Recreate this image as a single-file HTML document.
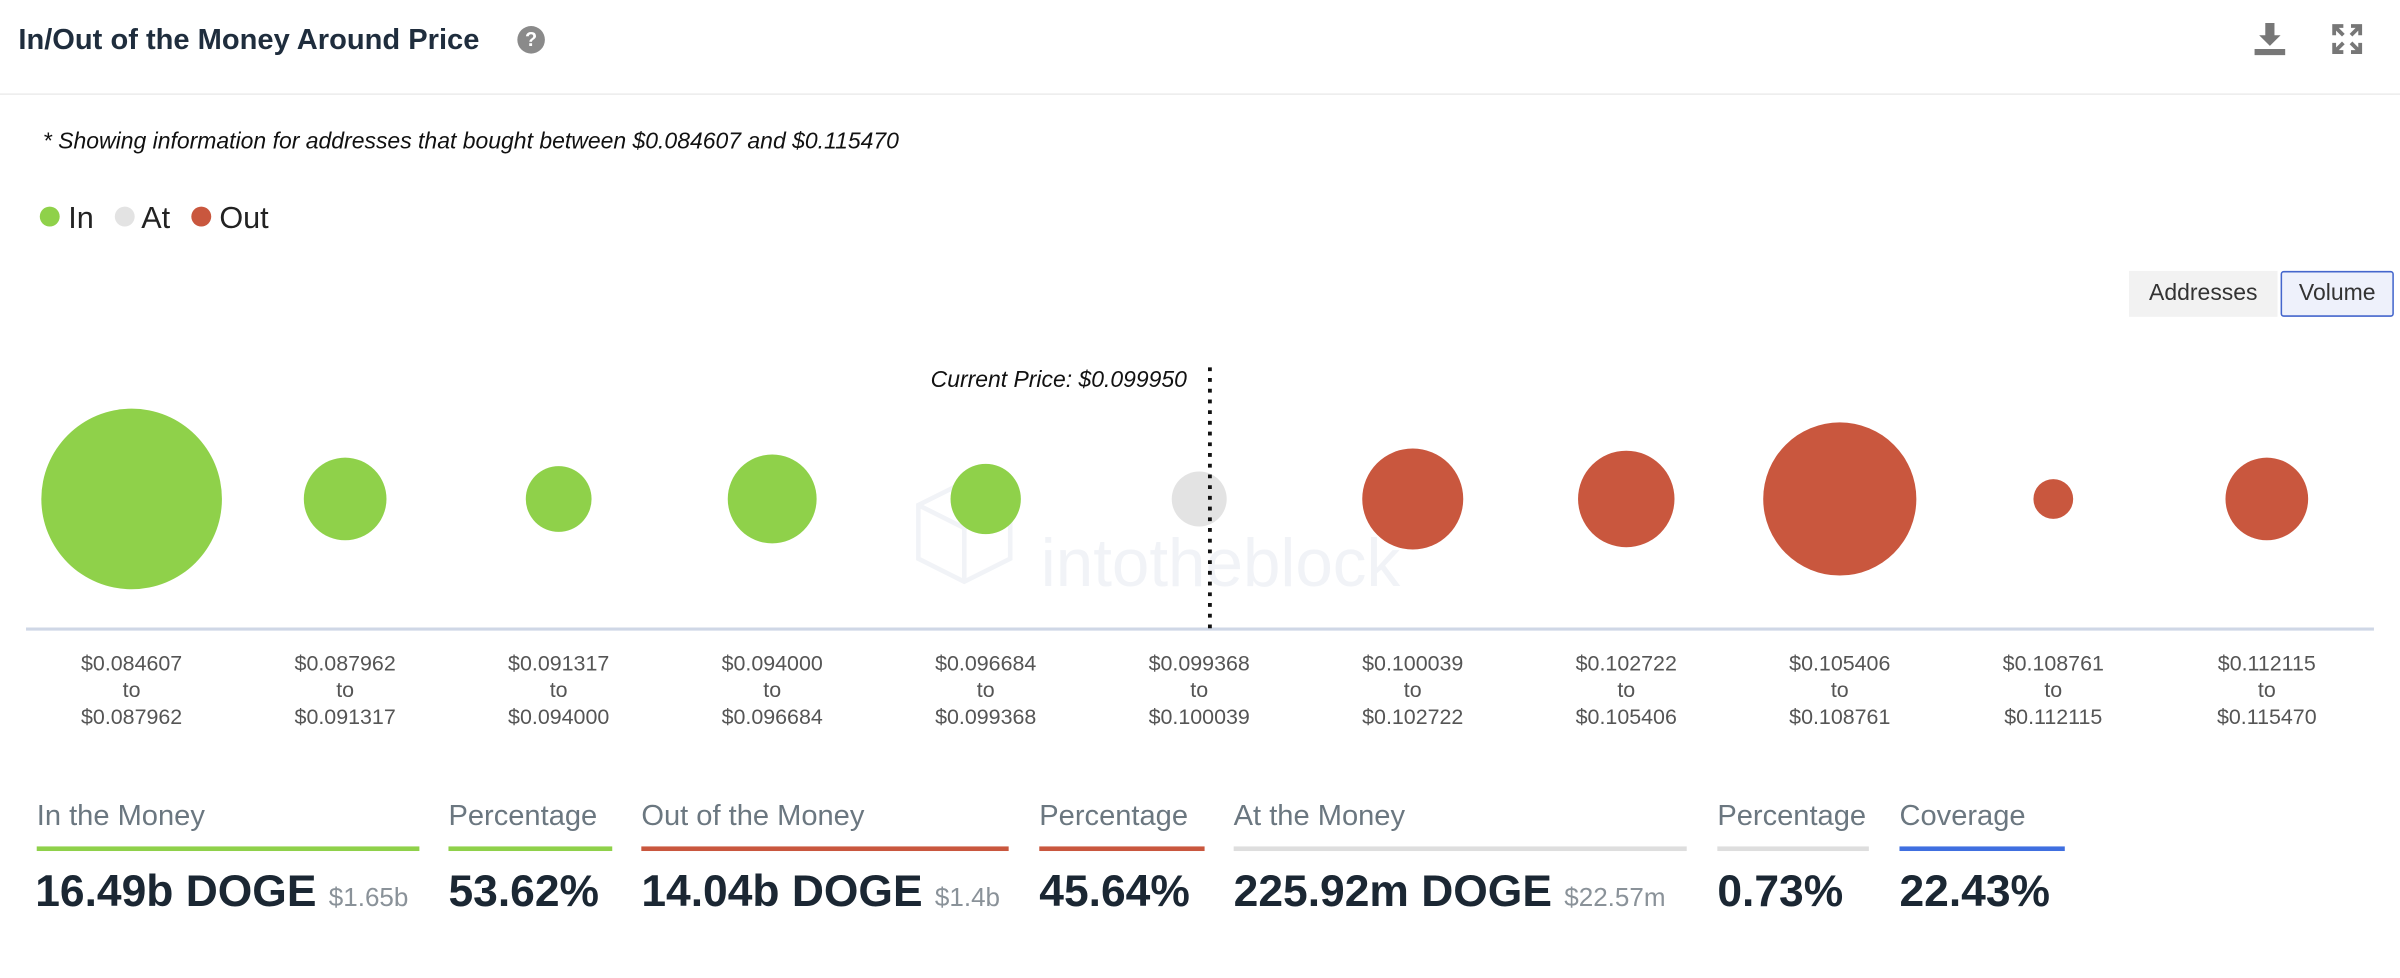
<!DOCTYPE html>
<html><head><meta charset="utf-8">
<style>
html,body{margin:0;padding:0;background:#fff;}
body{width:2400px;height:978px;overflow:hidden;font-family:"Liberation Sans",sans-serif;}
#root{position:absolute;left:0;top:0;width:1568px;height:639px;transform:scale(1.5306);transform-origin:0 0;}
.abs{position:absolute;}
.lbl{position:absolute;top:523px;font-size:19px;color:#6b7780;white-space:nowrap;}
.bar{position:absolute;top:553px;height:3px;}
.val{position:absolute;top:567px;font-size:29px;font-weight:bold;color:#1b2733;white-space:nowrap;}
.val small{font-size:17px;color:#8a9299;font-weight:normal;}
</style></head><body>
<div id="root">
  <div class="abs" style="left:12px;top:16px;font-size:19px;font-weight:bold;color:#1f2d3d;">In/Out of the Money Around Price</div>
  <div class="abs" style="left:338px;top:17px;width:18px;height:18px;border-radius:50%;background:#8a8a8a;color:#fff;font-size:13px;font-weight:bold;text-align:center;line-height:18px;">?</div>
  <svg class="abs" style="left:1471px;top:13px" width="24" height="24" viewBox="0 0 24 24"><path d="M9 2h6v8h4l-7 7-7-7h4z M2 19h20v4H2z" fill="#777"/></svg>
  <svg class="abs" style="left:1523px;top:15px" width="21" height="21" viewBox="0 0 21 21"><g stroke="#777" stroke-width="2.5" fill="none"><path d="M2 8V2h6M13 2h6v6M19 13v6h-6M8 19H2v-6M2 2l6 6M19 2l-6 6M19 19l-6-6M2 19l6-6"/></g></svg>
  <div class="abs" style="left:0;top:61px;width:1568px;height:1px;background:#ececec;"></div>
  <div class="abs" style="left:28px;top:84px;font-size:15px;font-style:italic;color:#111;">* Showing information for addresses that bought between $0.084607 and $0.115470</div>
  <div class="abs" style="left:26px;top:132px;font-size:20px;color:#222;">
    <span><span style="display:inline-block;width:13px;height:13px;border-radius:50%;background:#8fd14a;vertical-align:1px;"></span> In</span>
    <span style="margin-left:8px;"><span style="display:inline-block;width:13px;height:13px;border-radius:50%;background:#e3e3e3;vertical-align:1px;"></span> At</span>
    <span style="margin-left:8px;"><span style="display:inline-block;width:13px;height:13px;border-radius:50%;background:#c9573e;vertical-align:1px;"></span> Out</span>
  </div>
  <div class="abs" style="left:1391px;top:177px;width:97px;height:30px;background:#f2f2f2;font-size:15px;color:#333;text-align:center;line-height:30px;">Addresses</div>
  <div class="abs" style="left:1490px;top:177px;width:72px;height:28px;background:#eef1fb;border:1px solid #4466cc;border-radius:2px;font-size:15px;color:#333;text-align:center;line-height:28px;">Volume</div>
  <svg class="abs" id="plot" style="left:0;top:220px" width="1568" height="260"></svg>
  <div class="lbl" style="left:24px">In the Money</div>
  <div class="bar" style="left:24px;width:250px;background:#8fd14a"></div>
  <div class="val" style="left:23px">16.49b DOGE <small>$1.65b</small></div>
  <div class="lbl" style="left:293px">Percentage</div>
  <div class="bar" style="left:293px;width:107px;background:#8fd14a"></div>
  <div class="val" style="left:293px">53.62%</div>
  <div class="lbl" style="left:419px">Out of the Money</div>
  <div class="bar" style="left:419px;width:240px;background:#c9573e"></div>
  <div class="val" style="left:419px">14.04b DOGE <small>$1.4b</small></div>
  <div class="lbl" style="left:679px">Percentage</div>
  <div class="bar" style="left:679px;width:108px;background:#c9573e"></div>
  <div class="val" style="left:679px">45.64%</div>
  <div class="lbl" style="left:806px">At the Money</div>
  <div class="bar" style="left:806px;width:296px;background:#dedede"></div>
  <div class="val" style="left:806px">225.92m DOGE <small>$22.57m</small></div>
  <div class="lbl" style="left:1122px">Percentage</div>
  <div class="bar" style="left:1122px;width:99px;background:#dedede"></div>
  <div class="val" style="left:1122px">0.73%</div>
  <div class="lbl" style="left:1241px">Coverage</div>
  <div class="bar" style="left:1241px;width:108px;background:#3f6fe0"></div>
  <div class="val" style="left:1241px">22.43%</div>
</div>
<script>
const rangeLow = ["$0.084607","$0.087962","$0.091317","$0.094000","$0.096684","$0.099368","$0.100039","$0.102722","$0.105406","$0.108761","$0.112115"];
const rangeHigh = ["$0.087962","$0.091317","$0.094000","$0.096684","$0.099368","$0.100039","$0.102722","$0.105406","$0.108761","$0.112115","$0.115470"];
const volumes = [9.50, 1.99, 1.26, 2.30, 1.44, 0.88, 2.97, 2.71, 6.83, 0.46, 1.99];
const status = ["in","in","in","in","in","at","out","out","out","out","out"];
const currentPriceLabel = "Current Price: $0.099950";
const currentPriceIndex = 5.05;

const NS="http://www.w3.org/2000/svg";
const svg=document.getElementById('plot');
const colors={in:"#8fd14a",at:"#e3e3e3",out:"#c9573e"};
const x0=86, step=139.5, cy=106, axisY=191, rMax=59;
const vMax=Math.max(...volumes);
const xScale=i=>x0+i*step;
const rScale=v=>rMax*Math.sqrt(v/vMax);
function mk(tag,attrs){const e=document.createElementNS(NS,tag);for(const k in attrs)e.setAttribute(k,attrs[k]);svg.appendChild(e);return e;}
let wm=mk('text',{x:680,y:163,'font-size':44,fill:'#f1f3f7','font-family':'Liberation Sans, sans-serif'});
wm.textContent='intotheblock';


let wmi=mk('path',{d:'M600 110 l30 -15 l30 15 v35 l-30 15 l-30 -15z M600 110 l30 15 l30 -15 M630 125 v35',fill:'none',stroke:'#f1f3f7','stroke-width':3});


let ax=mk('line',{x1:17,x2:1551,y1:axisY,y2:axisY,stroke:'#cfd7e6','stroke-width':2});


volumes.forEach((v,i)=>{
  const c=mk('circle',{cx:xScale(i),cy:cy,r:rScale(v),fill:colors[status[i]]});
  
  
  const t=mk('text',{x:xScale(i),y:axisY+27,'text-anchor':'middle','font-size':14,fill:'#555','font-family':'Liberation Sans, sans-serif'});
  
  
  [rangeLow[i],'to',rangeHigh[i]].forEach((s,j)=>{const ts=document.createElementNS(NS,'tspan');ts.setAttribute('x',xScale(i));ts.setAttribute('dy',j?17.5:0);ts.textContent=s;t.appendChild(ts);});
});
const px=xScale(currentPriceIndex);
let pl=mk('line',{x1:px,x2:px,y1:20,y2:axisY,stroke:'#111','stroke-width':2.5,'stroke-dasharray':'2.5,4.5'});


let pt=mk('text',{x:px-15,y:33,'text-anchor':'end','font-size':15,'font-style':'italic',fill:'#111','font-family':'Liberation Sans, sans-serif'});
pt.textContent=currentPriceLabel;


</script>
</body></html>
